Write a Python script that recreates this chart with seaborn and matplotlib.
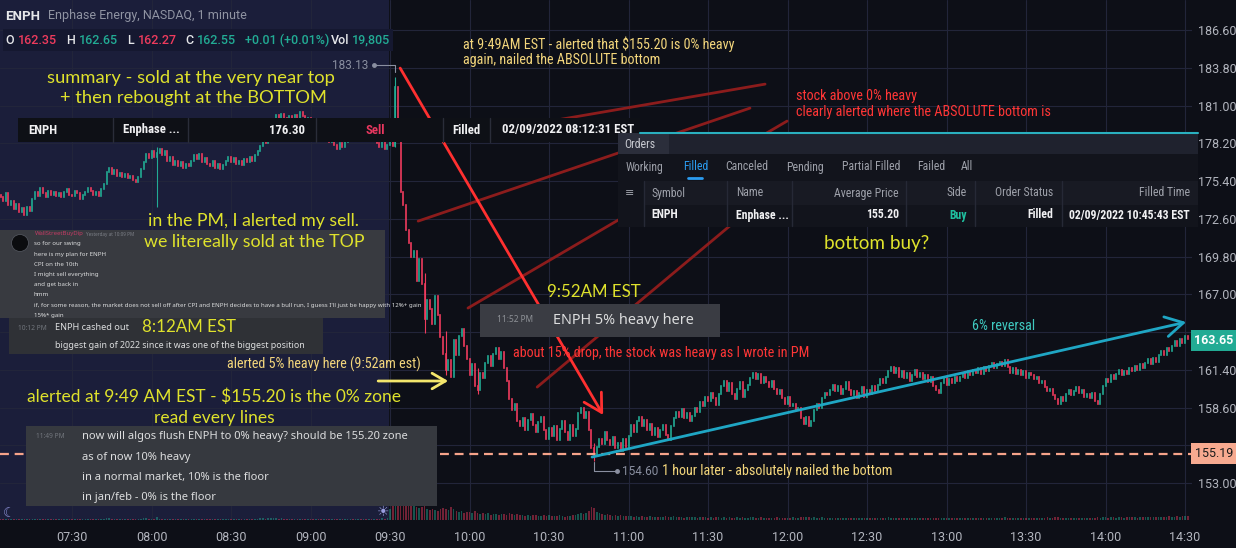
import numpy as np
import pandas as pd
import matplotlib
matplotlib.use("Agg")
import matplotlib.pyplot as plt
from matplotlib import font_manager
from matplotlib.patches import Rectangle, Ellipse
from matplotlib.lines import Line2D
import seaborn as sns

W, H = 1236, 548

# ------------------ DATA ------------------
# premarket 1-minute closes, 07:03 .. 09:29
pre_close = [
    174.2, 173.9, 174.5, 173.6, 173.9, 173.3, 173.7, 173.1, 173.4, 172.9,
    173.5, 173.2, 174.1, 174.6, 174.3, 174.9, 174.5, 174.2, 174.7, 174.4,
    174.6, 174.3, 174.5, 174.2, 174.6, 174.8, 174.4, 174.3, 174.7, 174.5,
    174.1, 174.4, 174.6, 174.9, 174.7, 174.4, 174.6, 174.3, 174.8, 175.2,
    176.1, 176.4, 175.9, 176.2, 175.8, 176.0, 175.7, 175.9, 175.6, 175.8,
    175.5, 175.3, 175.7, 176.3, 176.8, 177.4, 177.1, 177.6, 177.2, 177.5,
    177.8, 177.3, 177.6, 176.9, 177.2, 176.6, 176.9, 176.5, 176.8, 176.4,
    176.7, 176.5, 176.9, 177.3, 177.0, 177.4, 176.8, 177.1, 176.7, 176.5,
    176.9, 176.4, 176.7, 176.3, 176.6, 176.9, 177.2, 176.8, 177.1, 176.7,
    176.9, 176.6, 177.0, 176.8, 177.2, 176.9, 177.3, 177.6, 178.0, 178.4,
    178.2, 178.8, 179.3, 179.8, 180.3, 179.9, 180.4, 180.1, 179.7, 180.2,
    179.8, 180.3, 179.9, 180.5, 180.2, 179.6, 180.1, 179.7, 179.4, 179.8,
    179.3, 178.9, 179.2, 178.7, 178.3, 178.6, 178.1, 177.8, 178.2, 177.9,
    178.3, 178.6, 178.9, 178.5, 178.8, 179.1, 178.7, 179.0, 178.6, 178.9,
    178.4, 178.7, 178.2, 177.9, 178.3, 177.8, 178.1,
]

# regular session 1-minute closes, 09:30 .. 14:31
reg_close = [
    178.3, 178.0, 182.4, 179.2, 174.6, 173.6, 171.8, 170.8, 169.8, 170.2,
    168.0, 169.6, 167.8, 165.2, 166.6, 165.9, 164.8, 166.9, 165.5, 163.8,
    162.6, 161.4, 162.1, 160.9, 163.6, 162.5, 163.9, 164.4, 163.2, 162.2,
    161.0, 161.8, 160.2, 159.9, 161.2, 160.8, 161.9, 162.4, 161.7, 162.6,
    163.0, 162.2, 162.7, 161.5, 160.6, 159.2, 158.4, 158.9, 157.6, 157.2,
    157.8, 156.9, 157.7, 158.1, 157.3, 156.8, 157.5, 157.9, 156.9, 156.3,
    157.1, 156.5, 157.2, 156.2, 157.0, 157.6, 156.8, 156.2, 157.3, 156.5,
    157.0, 158.2, 158.6, 157.8, 158.3, 156.9, 155.6, 155.1, 155.7, 156.3,
    155.9, 156.8, 156.2, 155.8, 156.4, 155.6, 156.0, 155.4, 156.3, 155.7,
    156.5, 157.3, 156.8, 157.6, 157.9, 157.2, 157.7, 156.9, 157.4, 156.6,
    157.1, 156.4, 156.9, 157.3, 156.6, 156.2, 157.2, 157.8, 158.3, 157.9,
    158.5, 157.8, 158.2, 157.6, 158.0, 158.6, 158.3, 159.0, 158.7, 159.4,
    159.1, 159.7, 159.3, 158.8, 159.6, 160.2, 160.6, 159.8, 160.4, 159.6,
    159.2, 160.0, 160.5, 159.4, 159.9, 160.3, 160.8, 161.2, 160.7, 161.1,
    160.4, 160.9, 160.5, 160.1, 160.6, 160.0, 159.6, 159.9, 159.3, 158.9,
    159.4, 158.7, 158.9, 158.4, 158.6, 157.8, 157.4, 157.9, 157.2, 157.6,
    158.4, 158.9, 158.6, 159.3, 159.7, 159.5, 159.9, 160.3, 159.8, 160.2,
    159.6, 160.0, 160.5, 159.9, 159.5, 159.8, 159.3, 159.7, 160.1, 159.4,
    159.9, 159.6, 160.2, 159.8, 160.3, 160.7, 160.4, 160.9, 161.3, 161.6,
    161.2, 161.5, 160.9, 161.3, 160.8, 161.2, 160.6, 161.0, 161.4, 160.9,
    161.2, 160.7, 161.0, 160.5, 160.9, 160.2, 159.9, 159.7, 160.4, 160.8,
    160.3, 160.7, 160.4, 160.9, 160.6, 160.9, 161.2, 160.8, 161.3, 161.0,
    161.4, 161.2, 161.5, 161.1, 161.6, 161.3, 161.7, 161.9, 161.5, 161.8,
    162.0, 161.7, 162.1, 161.6, 161.2, 161.5, 161.1, 161.4, 161.0, 161.3,
    160.8, 161.2, 161.0, 160.7, 160.9, 160.4, 160.6, 160.1, 159.8, 160.0,
    159.5, 159.2, 158.9, 159.4, 159.1, 159.6, 159.9, 159.5, 159.8, 160.1,
    159.7, 159.9, 159.4, 159.6, 159.3, 159.7, 159.1, 158.9, 159.6, 160.2,
    160.7, 160.5, 161.0, 160.7, 161.1, 161.4, 161.0, 161.3, 161.1, 161.5,
    161.3, 161.7, 161.4, 161.8, 161.5, 161.9, 162.2, 161.8, 162.3, 162.0,
    162.5, 162.8, 162.5, 163.0, 162.8, 163.2, 163.5, 163.2, 163.7, 163.4,
    163.9, 163.65,
]

# volume in thousands
pre_volume = [
    5, 4, 6, 3, 5, 4, 3, 5, 4, 6,
    4, 5, 3, 4, 6, 5, 4, 3, 5, 4,
    3, 4, 5, 3, 4, 3, 5, 4, 3, 4,
    4, 3, 5, 4, 3, 4, 5, 3, 4, 6,
    9, 7, 5, 6, 4, 5, 4, 3, 5, 4,
    4, 5, 3, 6, 7, 8, 6, 5, 4, 12,
    6, 5, 4, 5, 4, 3, 4, 5, 3, 4,
    4, 3, 5, 4, 3, 4, 5, 4, 3, 4,
    3, 4, 3, 5, 4, 3, 4, 5, 4, 3,
    4, 3, 4, 5, 4, 3, 5, 6, 7, 8,
    6, 7, 8, 9, 8, 6, 7, 5, 6, 5,
    5, 6, 4, 5, 6, 4, 5, 4, 5, 4,
    4, 5, 4, 5, 4, 3, 4, 5, 4, 3,
    4, 5, 4, 3, 5, 4, 5, 4, 3, 4,
    5, 4, 6, 5, 7, 6, 8,
]
reg_volume = [
    45, 60, 110, 95, 85, 70, 75, 62, 58, 66,
    52, 48, 55, 60, 44, 40, 46, 42, 38, 44,
    50, 46, 40, 52, 44, 36, 34, 38, 30, 32,
    34, 28, 36, 30, 26, 29, 24, 27, 22, 25,
    23, 20, 24, 26, 22, 28, 25, 21, 24, 19,
    22, 18, 20, 17, 21, 19, 16, 18, 20, 17,
    19, 16, 18, 15, 20, 17, 14, 18, 16, 19,
    21, 26, 30, 24, 28, 38, 52, 48, 34, 30,
    26, 22, 24, 20, 18, 21, 17, 19, 16, 18,
    15, 17, 14, 16, 13, 15, 12, 14, 16, 13,
    12, 14, 11, 13, 15, 12, 14, 16, 13, 11,
    12, 10, 13, 11, 12, 14, 10, 13, 11, 12,
    10, 12, 9, 11, 13, 10, 12, 9, 11, 10,
    9, 11, 10, 12, 9, 10, 12, 11, 9, 10,
    11, 9, 10, 8, 10, 9, 11, 10, 8, 9,
    10, 9, 11, 10, 9, 12, 14, 11, 13, 10,
    12, 10, 9, 11, 10, 9, 8, 10, 9, 8,
    9, 8, 10, 9, 8, 7, 9, 8, 10, 8,
    7, 9, 8, 7, 9, 8, 10, 9, 11, 10,
    9, 8, 10, 9, 8, 9, 7, 8, 9, 8,
    7, 9, 8, 7, 8, 9, 10, 9, 8, 9,
    8, 7, 9, 8, 7, 8, 9, 8, 7, 9,
    8, 9, 7, 8, 9, 8, 10, 9, 8, 9,
    10, 9, 11, 9, 8, 9, 8, 7, 8, 9,
    8, 9, 8, 9, 10, 9, 8, 10, 11, 9,
    10, 11, 12, 10, 9, 10, 9, 8, 9, 10,
    9, 8, 9, 10, 8, 9, 10, 11, 10, 12,
    11, 10, 12, 11, 10, 12, 11, 10, 11, 12,
    11, 12, 10, 11, 12, 13, 11, 12, 13, 12,
    13, 14, 12, 13, 15, 14, 13, 15, 14, 16,
    15, 17,
]

first_open = 174.4
# visible wicks (minute offset from 09:30, high, low)
wick_minute = [-88, 2, 13, 21, 33, 77]
wick_high = [177.9, 183.13, 168.6, 164.3, 161.5, 156.0]
wick_low = [173.5, 177.9, 164.1, 161.0, 159.6, 154.60]

price_ticks = [153.00, 155.80, 158.60, 161.40, 164.20, 167.00, 169.80,
               172.60, 175.40, 178.20, 181.00, 183.80, 186.60]
time_labels = ["07:30", "08:00", "08:30", "09:00", "09:30", "10:00", "10:30", "11:00",
               "11:30", "12:00", "12:30", "13:00", "13:30", "14:00", "14:30"]
time_minutes = [-120, -90, -60, -30, 0, 30, 60, 90, 120, 150, 180, 210, 240, 270, 300]

last_price = 163.65
zero_zone = 155.19
day_high = 183.13
day_low = 154.60

# ------------------ FONTS ------------------
installed = {f.name for f in font_manager.fontManager.ttflist}


def pick(*names):
    for n in names:
        if n in installed:
            return n
    return "DejaVu Sans"


UI = pick("Roboto", "Open Sans", "DejaVu Sans")
NARROW = pick("Liberation Sans Narrow", "Roboto Condensed", "Roboto")
NS = 1.0 if NARROW == "Liberation Sans Narrow" else 1.02
GEO = pick("Lato", "Open Sans", "DejaVu Sans")
CHAT = pick("Noto Sans", "Open Sans", "DejaVu Sans")

BG = "#0d0f17"
PRE_BG = "#1b1e3a"
UP, DOWN = "#22ab94", "#ef3b5d"
YEL = "#dfe22c"
GLD = "#f3d67c"
RED = "#ff3636"

sns.set_theme(style="dark", rc={"axes.facecolor": BG, "figure.facecolor": BG,
                                "axes.edgecolor": BG, "grid.color": "#22253a"})
plt.rcParams["font.family"] = [UI, "DejaVu Sans"]

# ------------------ CANDLES ------------------
t = np.concatenate([np.arange(-len(pre_close), 0), np.arange(len(reg_close))])
close = np.array(pre_close + reg_close)
opn = np.concatenate([[first_open], close[:-1]])
vol = np.array(pre_volume + reg_volume)
up = close >= opn

fig = plt.figure(figsize=(W / 100, H / 100), dpi=100)
ax = fig.add_axes([0, 28 / H, 1192 / W, 520 / H])
axv = ax.twinx()

x0, x1 = -147.2, 302.6
ax.axvspan(x0, -0.5, color=PRE_BG, zorder=0, lw=0)

lc = ax.vlines(t, opn, close, colors=np.where(up, UP, DOWN), lw=1.2, zorder=3)
lc.set_capstyle("projecting")
wick_up = [up[list(t).index(m)] for m in wick_minute]
ax.vlines(wick_minute, wick_low, wick_high, colors=np.where(wick_up, UP, DOWN), lw=0.8, zorder=3)

# volume with seaborn
vdf = pd.DataFrame({"t": t, "vol": vol, "dir": np.where(up, "up", "down")})
sns.histplot(data=vdf, x="t", weights="vol", hue="dir", hue_order=["up", "down"],
             palette={"up": UP, "down": DOWN}, binwidth=1,
             binrange=(t.min() - 0.5, t.max() + 0.5), shrink=0.6, alpha=0.45,
             linewidth=0, legend=False, ax=axv)
axv.set_ylim(0, 2120)
axv.set_yticks([])
axv.set_ylabel("")
axv.set_xlabel("")
axv.grid(False)
for s in axv.spines.values():
    s.set_visible(False)

ax.set_xlim(x0, x1)
ax.set_ylim(150.26, 188.83)
ax.yaxis.tick_right()
# 155.80 and 164.20 sit under the price tags, so their text is left out
hidden = {155.80, 164.20}
ax.set_yticks(price_ticks, ["" if p in hidden else f"{p:.2f}" for p in price_ticks])
ax.set_xticks(time_minutes, time_labels)
ax.tick_params(axis="both", length=0, labelcolor="#b2b5be", labelsize=9)
ax.tick_params(axis="y", pad=4)
ax.tick_params(axis="x", pad=8)
ax.grid(True, color="#22253a", lw=0.8)
ax.set_axisbelow(True)
for s in ax.spines.values():
    s.set_visible(False)

# zero-zone dashed line
ax.axhline(zero_zone, color="#f6a38a", lw=1.6, ls=(0, (4, 2.6)), zorder=4)

# annotation lines (time minute, price)
DARKRED = "#8c1c1c"
ax.plot([58.5, 141.5], [179.78, 182.59], color=DARKRED, lw=2, zorder=5)
ax.plot([10.6, 135.8], [172.43, 180.81], color=DARKRED, lw=2, zorder=5)
ax.plot([29.4, 149.8], [165.98, 179.85], color=DARKRED, lw=2, zorder=5)
ax.plot([55.5, 134.0], [160.12, 173.03], color=DARKRED, lw=2, zorder=5)

ax.annotate("", xy=(80.4, 158.05), xytext=(3.8, 183.78),
            arrowprops=dict(arrowstyle="->,head_length=0.8,head_width=0.45", color="#ff3030",
                            lw=2, mutation_scale=16, shrinkA=0, shrinkB=0), zorder=6)
ax.annotate("", xy=(300.4, 164.94), xytext=(76.2, 154.93),
            arrowprops=dict(arrowstyle="->,head_length=0.8,head_width=0.45", color="#1fa6c4",
                            lw=2, mutation_scale=16, shrinkA=0, shrinkB=0), zorder=6)
ax.annotate("", xy=(21.9, 160.57), xytext=(-4.5, 160.57),
            arrowprops=dict(arrowstyle="->,head_length=0.6,head_width=0.35", color="#f3e66c",
                            lw=2, mutation_scale=16, shrinkA=0, shrinkB=0), zorder=6)

# high / low markers
MK = "#8a8fa0"
ax.plot([-6.0, 2, 2], [184.0, 184.0, 183.5], color=MK, lw=0.8, zorder=6)
ax.plot([-6.0], [184.0], "o", color=MK, ms=2.5, zorder=6)
ax.text(-8.3, 184.0, f"{day_high:.2f}", color=MK, fontsize=8.5, ha="right", va="center")
ax.plot([77, 77, 85.7], [day_low - 0.05, 153.89, 153.89], color=MK, lw=0.8, zorder=6)
ax.plot([85.7], [153.89], "o", color=MK, ms=2.5, zorder=6)
ax.text(87.5, 153.89, f"{day_low:.2f}", color=MK, fontsize=8.5, ha="left", va="center")


# ------------------ OVERLAYS (pixel layout) ------------------
def box(xa, ya, xb, yb, color, z=5):
    fig.add_artist(Rectangle((xa / W, 1 - yb / H), (xb - xa) / W, (yb - ya) / H,
                             facecolor=color, edgecolor="none", zorder=z))


def seg(xa, ya, xb, yb, color, lw=1.0, z=6):
    fig.add_artist(Line2D([xa / W, xb / W], [1 - ya / H, 1 - yb / H], color=color, lw=lw, zorder=z))


def txt(x, y, s, color, size, family=UI, weight="normal", ha="left", z=10):
    fig.text(x / W, 1 - y / H, s, color=color, fontsize=size, family=[family, "DejaVu Sans"],
             weight=weight, ha=ha, va="center", zorder=z)


# header
txt(5, 16, "ENPH", "#e6e7ea", 9.5, weight="bold")
txt(48, 16, "Enphase Energy, NASDAQ, 1 minute", "#8f93a2", 9)
box(3, 29, 393, 51, "#151830")
ohlc = [(5, "O", "#e6e7ea"), (18, "162.35", DOWN), (66, "H", "#e6e7ea"), (79, "162.65", UP),
        (127, "L", "#e6e7ea"), (138, "162.27", DOWN), (185, "C", "#e6e7ea"), (197, "162.55", UP),
        (245, "+0.01 (+0.01%)", UP), (331, "Vol", "#e6e7ea"), (352, "19,805", UP)]
for x, s, c in ohlc:
    txt(x, 40, s, c, 9, weight="medium")

# sell order row
box(18, 118, 640, 142, "#0e1016")
for x in [113, 188, 316, 443, 490]:
    seg(x, 118, x, 142, "#2a2d39")
txt(28, 130, "ENPH", "#f0f0f2", 9 * NS, family=NARROW, weight="bold")
txt(123, 130, "Enphase ...", "#f0f0f2", 9 * NS, family=NARROW, weight="bold")
txt(305, 130, "176.30", "#f0f0f2", 9 * NS, family=NARROW, weight="bold", ha="right")
txt(365, 130, "Sell", "#e8375f", 9 * NS, family=NARROW, weight="bold")
txt(452, 130, "Filled", "#f0f0f2", 9 * NS, family=NARROW, weight="bold")
txt(502, 130, "02/09/2022 08:12:31 EST", "#f0f0f2", 9 * NS, family=NARROW, weight="bold")

# orders panel
PS = 8.3 * NS
box(618, 133, 1198, 227, "#12141c")
box(618, 133, 1198, 154, "#1f222e")
box(618, 133, 669, 154, "#2b2e3b")
seg(640, 133, 1198, 133, "#2ab0bf", lw=1.5)
txt(624, 144, "Orders", "#c9cbd2", PS, family=NARROW)
tabs = [(626, "Working"), (683, "Filled"), (725, "Canceled"), (786, "Pending"),
        (842, "Partial Filled"), (917, "Failed"), (961, "All")]
for x, s in tabs:
    txt(x, 167, s, "#2b9cf0" if s == "Filled" else "#9ea1aa", PS, family=NARROW)
seg(688, 178, 702, 178, "#2b9cf0", lw=2)
box(644, 181, 1198, 205, "#181a23")
for x in [644, 727, 792, 906, 975, 1062]:
    seg(x, 181, x, 226, "#262936")
txt(625, 193, "≡", "#9ea1aa", 8, family="DejaVu Sans")
txt(651, 193, "Symbol", "#9ea1aa", PS, family=NARROW)
txt(736, 193, "Name", "#9ea1aa", PS, family=NARROW)
txt(899, 193, "Average Price", "#9ea1aa", PS, family=NARROW, ha="right")
txt(967, 193, "Side", "#9ea1aa", PS, family=NARROW, ha="right")
txt(1053, 193, "Order Status", "#9ea1aa", PS, family=NARROW, ha="right")
txt(1190, 193, "Filled Time", "#9ea1aa", PS, family=NARROW, ha="right")
txt(651, 215, "ENPH", "#f0f0f2", PS, family=NARROW, weight="bold")
txt(736, 215, "Enphase ...", "#f0f0f2", PS, family=NARROW, weight="bold")
txt(899, 215, "155.20", "#f0f0f2", PS, family=NARROW, weight="bold", ha="right")
txt(967, 215, "Buy", "#1fc0a0", PS, family=NARROW, weight="bold", ha="right")
txt(1053, 215, "Filled", "#f0f0f2", PS, family=NARROW, weight="bold", ha="right")
txt(1190, 215, "02/09/2022 10:45:43 EST", "#f0f0f2", PS, family=NARROW, weight="bold", ha="right")

# chat screenshot 1
box(0, 230, 385, 318, "#383a40")
fig.add_artist(Ellipse((20 / W, 1 - 243 / H), 17 / W, 17 / H, facecolor="#0b0c0f",
                       edgecolor="#50535b", lw=0.6, zorder=6))
txt(35, 234, "WallStreetBuyDip", "#c23a64", 4.3, family=CHAT, weight="bold")
txt(86, 234.5, "Yesterday at 10:09 PM", "#7d8088", 3.3, family=CHAT)
chat1 = ["so for our swing", "here is my plan for ENPH", "CPI on the 10th",
         "I might sell everything", "and get back in", "hmm",
         "if, for some reason, the market does not sell off after CPI and ENPH decides to have "
         "a bull run, I guess I'll just be happy with 12%+ gain",
         "15%* gain"]
for i, s in enumerate(chat1):
    txt(34, 244 + i * 10.2, s, "#dcddde", 4.4, family=CHAT)

# chat screenshot 2
box(9, 318, 323, 354, "#2f3136")
txt(18, 328, "10:12 PM", "#72767d", 4.8, family=CHAT)
txt(55, 328, "ENPH cashed out", "#dcddde", 6.6, family=CHAT)
txt(55, 346, "biggest gain of 2022 since it was one of the biggest position", "#dcddde", 6.4, family=CHAT)

# chat screenshot 3
box(26, 426, 437, 506, "#36393f")
txt(36, 437, "11:49 PM", "#72767d", 4.8, family=CHAT)
chat3 = ["now will algos flush ENPH to 0% heavy? should be 155.20 zone", "as of now 10% heavy",
         "in a normal market, 10% is the floor", "in jan/feb - 0% is the floor"]
for i, s in enumerate(chat3):
    txt(82, 437 + i * 20.3, s, "#dcddde", 8.0, family=CHAT)

# chat screenshot 4
box(480, 304, 720, 337, "#3a3c43")
txt(497, 320, "11:52 PM", "#8e9297", 6, family=CHAT)
txt(553, 320, "ENPH 5% heavy here", "#dcddde", 10.4, family=CHAT)

# yellow notes
txt(191, 78, "summary - sold at the very near top", YEL, 13.2, family=GEO, ha="center", z=20)
txt(193, 98, "+ then rebought at the BOTTOM", YEL, 13.2, family=GEO, ha="center", z=20)
txt(254, 221, "in the PM, I alerted my sell.", YEL, 12.8, family=GEO, ha="center", z=20)
txt(254, 242, "we litereally sold at the TOP", YEL, 12.8, family=GEO, ha="center", z=20)
txt(142, 327, "8:12AM EST", YEL, 12.2, family=GEO, z=20)
txt(214, 397, "alerted at 9:49 AM EST - $155.20 is the 0% zone", YEL, 12.5, family=GEO, ha="center", z=20)
txt(214, 418, "read every lines", YEL, 12.5, family=GEO, ha="center", z=20)
txt(547, 292, "9:52AM EST", YEL, 12.2, family=GEO, z=20)
txt(824, 244, "bottom buy?", YEL, 13.6, family=GEO, z=20)

# golden / red / teal notes
txt(463, 44, "at 9:49AM EST - alerted that $155.20 is 0% heavy", GLD, 10 * NS, family=NARROW, z=20)
txt(463, 60, "again, nailed the ABSOLUTE bottom", GLD, 10 * NS, family=NARROW, z=20)
txt(227, 364, "alerted 5% heavy here (9:52am est)", GLD, 10 * NS, family=NARROW, z=20)
txt(662, 471, "1 hour later - absolutely nailed the bottom", GLD, 10 * NS, family=NARROW, z=20)
txt(796, 96, "stock above 0% heavy", RED, 10 * NS, family=NARROW, z=20)
txt(796, 112, "clearly alerted where the ABSOLUTE bottom is", RED, 10 * NS, family=NARROW, z=20)
txt(513, 353, "about 15% drop, the stock was heavy as I wrote in PM", RED, 10 * NS, family=NARROW, z=20)
txt(972, 326, "6% reversal", "#3fc9c0", 10 * NS, family=NARROW, z=20)

# price axis labels
box(1191, 330, 1236, 351, UP)
txt(1214, 340.5, f"{last_price:.2f}", "#ffffff", 9, weight="bold", ha="center")
box(1191, 443, 1236, 464, "#f7aa90")
txt(1214, 453.5, f"{zero_zone:.2f}", "#1b1b1b", 9, ha="center")

# session icons
txt(3, 513, "☾", "#8b8fd6", 10, family="DejaVu Sans")
txt(377, 512, "☀", "#9a9ee0", 10, family="DejaVu Sans")

fig.savefig("out.png", dpi=100, facecolor=BG)
